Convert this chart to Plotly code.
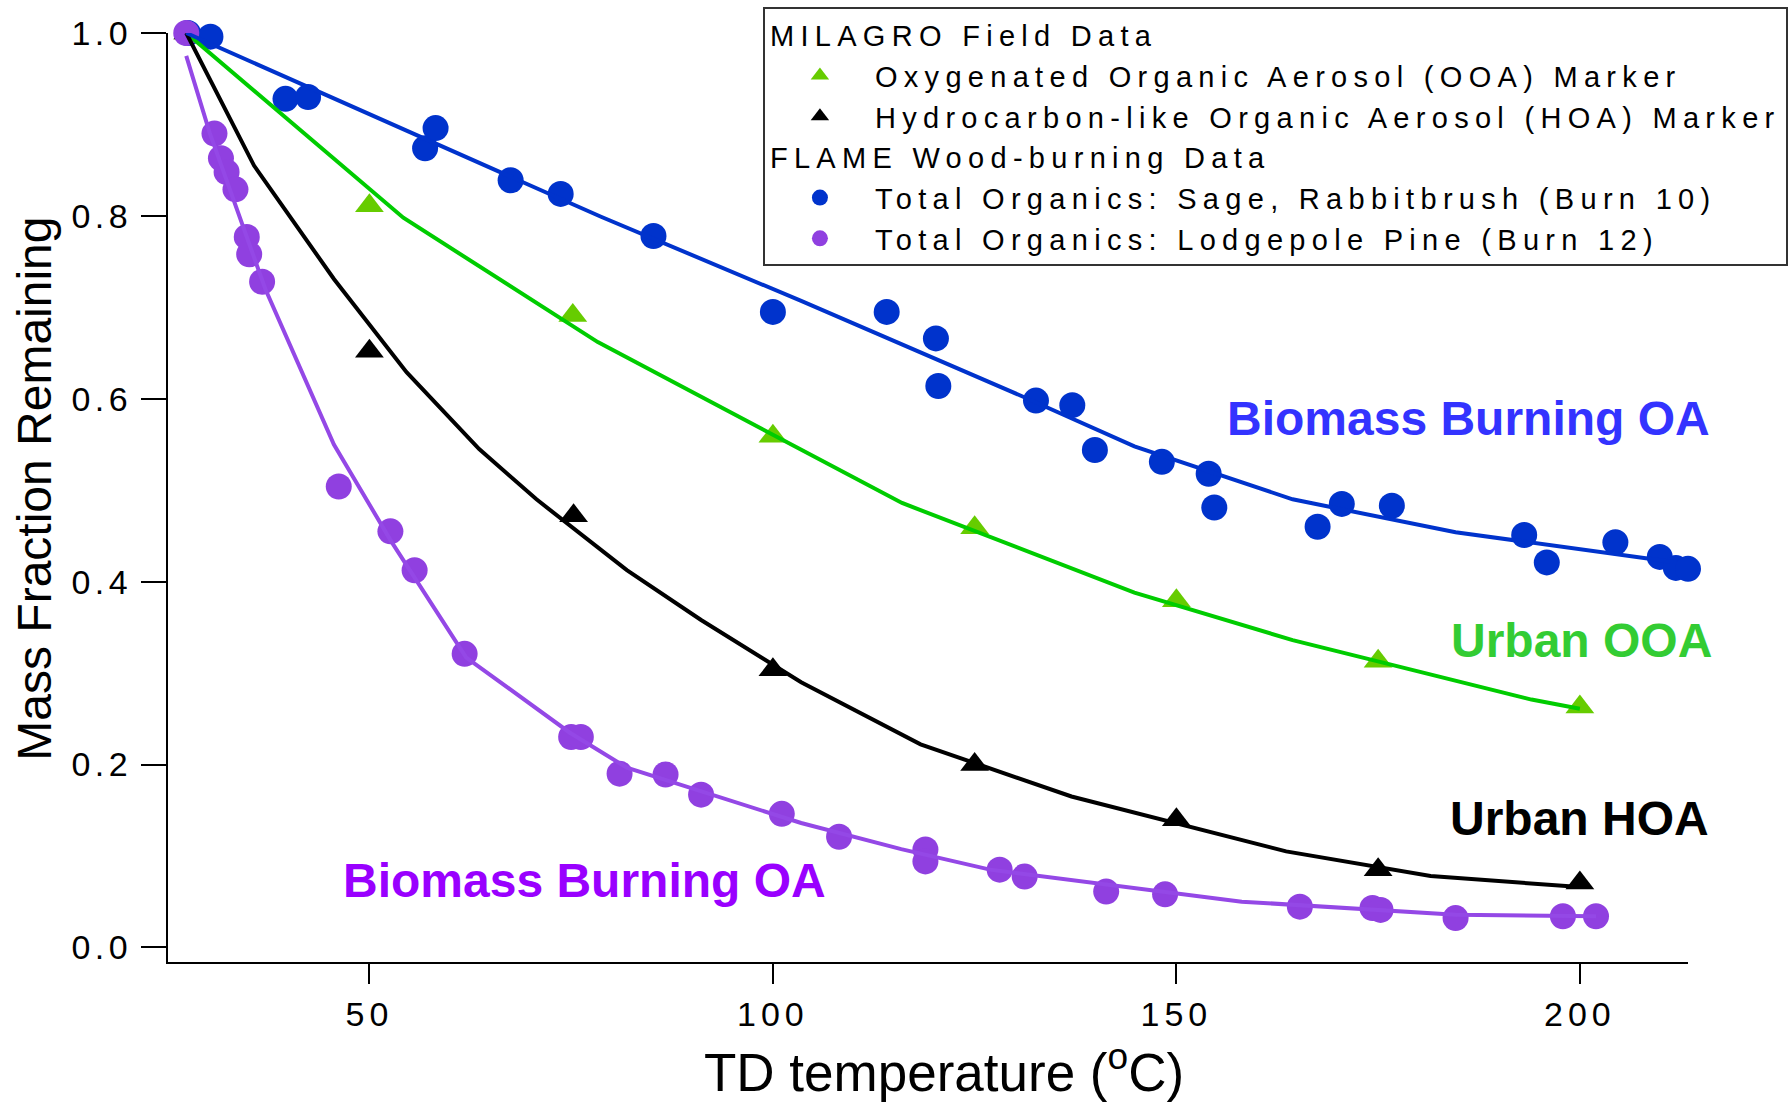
import plotly.graph_objects as go

# ---------------- data ----------------
# MILAGRO field data: OOA marker (green triangles)
ooa_temp = [27.5, 50, 75.2, 100, 125, 150, 175, 200]
ooa_frac = [1.0, 0.811, 0.691, 0.559, 0.459, 0.379, 0.313, 0.263]
# MILAGRO field data: HOA marker (black triangles)
hoa_temp = [27.5, 50, 75.3, 100, 125, 150, 175, 200]
hoa_frac = [1.0, 0.652, 0.472, 0.3035, 0.200, 0.1397, 0.0849, 0.0704]

# FLAME: Sage, Rabbitbrush (Burn 10)
sage_temp = [27.5, 30.3, 39.6, 42.4, 56.9, 58.2, 67.5, 73.7, 85.2, 100.0, 114.1,
             120.2, 120.5, 132.6, 137.1, 139.9, 148.2, 154.0, 154.7, 167.5, 170.5,
             176.7, 193.1, 195.9, 204.4, 209.9, 211.9, 213.4]
sage_frac = [1.0, 0.996, 0.928, 0.930, 0.874, 0.896, 0.839, 0.824, 0.778, 0.695, 0.695,
             0.666, 0.614, 0.598, 0.593, 0.544, 0.531, 0.518, 0.481, 0.460, 0.485,
             0.483, 0.451, 0.421, 0.443, 0.427, 0.415, 0.414]

# FLAME: Lodgepole Pine (Burn 12)
pine_temp = [27.3, 30.8, 31.6, 32.3, 33.4, 34.8, 35.1, 36.7, 46.2, 52.6, 55.6, 61.8,
             75.0, 76.2, 81.0, 86.7, 91.1, 101.1, 108.2, 118.9, 118.9, 128.1, 131.2,
             141.3, 148.6, 165.3, 174.3, 175.3, 184.6, 197.9, 202.0]
pine_frac = [1.0, 0.890, 0.863, 0.848, 0.829, 0.777, 0.758, 0.728, 0.504, 0.455, 0.4125,
             0.321, 0.230, 0.230, 0.190, 0.189, 0.167, 0.146, 0.121, 0.107, 0.094,
             0.085, 0.0774, 0.061, 0.058, 0.0445, 0.043, 0.041, 0.032, 0.034, 0.034]

# fitted curves
ooa_fit_temp = [27.3, 54.2, 78.3, 103.5, 116.0, 144.8, 164.4, 194.0, 200.0]
ooa_fit_frac = [1.0, 0.798, 0.662, 0.545, 0.486, 0.388, 0.336, 0.271, 0.261]
hoa_fit_temp = [27.3, 35.7, 45.6, 54.6, 63.6, 70.7, 81.9, 91.1, 103.5, 118.3, 137.0,
                163.6, 181.5, 200.0]
hoa_fit_frac = [1.0, 0.855, 0.731, 0.629, 0.545, 0.490, 0.4125, 0.358, 0.290, 0.222,
                0.165, 0.105, 0.078, 0.066]
sage_fit_temp = [27.3, 78.7, 103.5, 130.8, 144.8, 164.4, 184.6, 212.0]
sage_fit_frac = [1.0, 0.799, 0.707, 0.603, 0.548, 0.490, 0.454, 0.421]
pine_fit_temp = [27.3, 30.2, 37.1, 45.6, 52.7, 62.0, 74.8, 81.9, 103.5, 115.9, 126.9,
                 158.1, 184.6, 202.0]
pine_fit_frac = [0.975, 0.891, 0.720, 0.550, 0.444, 0.317, 0.235, 0.1965, 0.136, 0.1075,
                 0.085, 0.050, 0.0357, 0.034]

x_tick_vals = [50, 100, 150, 200]
x_tick_text = ["50", "100", "150", "200"]
y_tick_vals = [0.0, 0.2, 0.4, 0.6, 0.8, 1.0]
y_tick_text = ["0.0", "0.2", "0.4", "0.6", "0.8", "1.0"]

# ---------------- style ----------------
FONT = "Liberation Sans, Arial, sans-serif"
GREEN_M, GREEN_L = "#66cc00", "#00cc00"
BLUE = "#0033cc"
PURPLE_M, PURPLE_L = "#9040e0", "#9448e6"


def spaced(t, ls):
    return f"<span style='letter-spacing:{ls}px'>{t}</span>"


LEG_LS = 6.3
fig = go.Figure()

fig.add_trace(go.Scatter(
    x=ooa_temp, y=ooa_frac, mode="markers", cliponaxis=False,
    marker=dict(symbol="triangle-up", size=25, color=GREEN_M),
    name=spaced("Oxygenated Organic Aerosol (OOA) Marker", LEG_LS),
    legendgroup="milagro",
    legendgrouptitle=dict(text=spaced("MILAGRO Field Data", LEG_LS))))
fig.add_trace(go.Scatter(
    x=hoa_temp, y=hoa_frac, mode="markers", cliponaxis=False,
    marker=dict(symbol="triangle-up", size=25, color="black"),
    name=spaced("Hydrocarbon-like Organic Aerosol (HOA) Marker", LEG_LS),
    legendgroup="milagro"))
fig.add_trace(go.Scatter(
    x=sage_temp, y=sage_frac, mode="markers", cliponaxis=False,
    marker=dict(symbol="circle", size=26, color=BLUE),
    name=spaced("Total Organics: Sage, Rabbitbrush (Burn 10)", LEG_LS),
    legendgroup="flame",
    legendgrouptitle=dict(text=spaced("FLAME Wood-burning Data", LEG_LS))))
fig.add_trace(go.Scatter(
    x=pine_temp, y=pine_frac, mode="markers", cliponaxis=False,
    marker=dict(symbol="circle", size=26, color=PURPLE_M),
    name=spaced("Total Organics: Lodgepole Pine (Burn 12)", LEG_LS),
    legendgroup="flame"))

for xs, ys, col in [(ooa_fit_temp, ooa_fit_frac, GREEN_L),
                    (hoa_fit_temp, hoa_fit_frac, "black"),
                    (sage_fit_temp, sage_fit_frac, BLUE),
                    (pine_fit_temp, pine_fit_frac, PURPLE_L)]:
    fig.add_trace(go.Scatter(x=xs, y=ys, mode="lines", cliponaxis=False,
                             line=dict(color=col, width=4), showlegend=False,
                             hoverinfo="skip"))

# curve labels (paper coordinates)
labels = [
    ("Biomass Burning OA", 1.0157, 0.5853, "#3333ff", "right"),
    ("Urban OOA", 1.0170, 0.3466, "#33cc33", "right"),
    ("Urban HOA", 1.0149, 0.1547, "black", "right"),
    ("Biomass Burning OA", 0.1135, 0.0879, "#9900ff", "left"),
]
annotations = []
for txt, xv, yv, col, anc in labels:
    annotations.append(dict(x=xv, y=yv, xref="paper", yref="paper", text=txt,
                            showarrow=False, xanchor=anc, yanchor="middle",
                            font=dict(family=FONT, size=48, color=col, weight="bold")))

annotations.append(dict(x=-0.0878, y=0.509, xref="paper", yref="paper",
                        text="Mass Fraction Remaining", textangle=-90, showarrow=False,
                        xanchor="center", yanchor="middle",
                        font=dict(family=FONT, size=48, color="black")))
annotations.append(dict(x=0.5102, y=-0.1150, xref="paper", yref="paper",
                        text="TD temperature (<sup>o</sup>C)", showarrow=False,
                        xanchor="center", yanchor="middle",
                        font=dict(family=FONT, size=53, color="black")))

fig.update_layout(
    width=1788, height=1102,
    margin=dict(l=168, r=100, t=33, b=140, autoexpand=False),
    paper_bgcolor="white", plot_bgcolor="white",
    font=dict(family=FONT, color="black"),
    showlegend=True,
    legend=dict(x=0.3914, y=1.0275,
                xanchor="left", yanchor="top", bgcolor="white",
                bordercolor="#333333", borderwidth=2,
                font=dict(family=FONT, size=29, color="black"),
                grouptitlefont=dict(family=FONT, size=29, color="black"),
                itemwidth=100, tracegroupgap=0, traceorder="grouped",
                itemclick=False, itemdoubleclick=False),
    annotations=annotations,
    xaxis=dict(range=[25.04, 213.4], showgrid=False, zeroline=False,
               showline=True, linewidth=2, linecolor="black",
               ticks="outside", ticklen=20, tickwidth=2, tickcolor="black",
               tickvals=x_tick_vals,
               ticktext=[spaced(t, 5) for t in x_tick_text],
               tickfont=dict(family=FONT, size=34, color="black"),
               ticklabelstandoff=1, automargin=False),
    yaxis=dict(range=[-0.016, 1.0], showgrid=False, zeroline=False,
               showline=True, linewidth=2, linecolor="black",
               ticks="outside", ticklen=25, tickwidth=2, tickcolor="black",
               tickvals=y_tick_vals,
               ticktext=[spaced(t, 4.5) for t in y_tick_text],
               tickfont=dict(family=FONT, size=34, color="black"),
               ticklabelstandoff=2, automargin=False),
)

fig.write_html("out.html")
